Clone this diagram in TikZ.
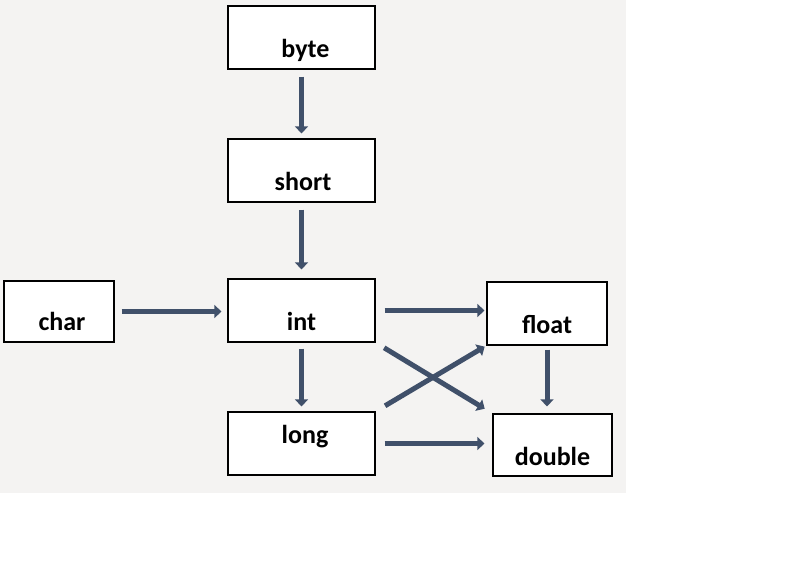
\documentclass[tikz,border=0pt]{standalone}
\usepackage{fontspec}
\setmainfont{Carlito}
\usetikzlibrary{arrows.meta}
\definecolor{arrowblue}{RGB}{64,80,106}
\definecolor{paper}{RGB}{244,243,242}
\tikzset{
  box/.style={draw, line width=1.2pt, fill=white, minimum width=147pt, minimum height=63pt, inner sep=0pt},
  typename/.style={font=\fontsize{26}{30}\selectfont\bfseries, text height=18pt, text depth=5pt, inner sep=0pt},
  conv/.style={draw=arrowblue, line width=5pt, -{Triangle[width=13pt,length=7pt]}},
}

\begin{document}
\begin{tikzpicture}[x=1pt,y=-1pt]
  \useasboundingbox (0,0) rectangle (800,579);
  \fill[paper] (0,0) rectangle (626,493);
  %
  \node[box, label={[typename,xshift=4pt,yshift=-13pt]center:byte}] (byte) at (301.5,37.5) {};
  \node[box, label={[typename,xshift=1.5pt,yshift=-13pt]center:short}] (short) at (301.5,170.5) {};
  \node[box, minimum width=110pt, minimum height=61pt, label={[typename,xshift=3pt,yshift=-12pt]center:char}] (char) at (59,311.5) {};
  \node[box, label={[typename,yshift=-13pt]center:int}] (int) at (301.5,310.5) {};
  \node[box, minimum width=120pt, label={[typename,yshift=-13pt]center:float}] (float) at (547,313.5) {};
  \node[box, label={[typename,xshift=3.5pt,yshift=7pt]center:long}] (long) at (301.5,443.5) {};
  \node[box, minimum width=119pt, minimum height=62pt, label={[typename,yshift=-13.5pt]center:double}] (double) at (552.5,445) {};
  %
  \draw[conv, shorten <=7pt, shorten >=5pt] (byte) -- (short);
  \draw[conv, shorten <=7pt, shorten >=9pt] (short) -- (int);
  \draw[conv, shorten <=7pt, shorten >=6pt] (char.east) -- (char.east -| int.west);
  \draw[conv, shorten <=9pt, shorten >=2pt] (int.east) -- (int.east -| float.west);
  \draw[conv, shorten <=6pt, shorten >=5pt] (int) -- (long);
  \draw[conv, shorten <=4pt, shorten >=7pt] (float.south) -- (float.south |- double.north);
  \draw[conv, shorten <=9pt, shorten >=8pt] (long.east) -- (long.east -| double.west);
  \draw[conv, shorten <=10pt, shorten >=9pt] (int.south east) -- (double.north west); % crossing
  \draw[conv, shorten <=11pt, shorten >=2pt] (long.north east) -- (float.south west);
\end{tikzpicture}
\end{document}
